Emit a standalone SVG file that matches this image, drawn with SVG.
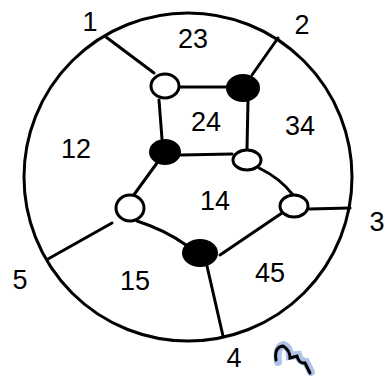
<svg xmlns="http://www.w3.org/2000/svg" width="389" height="376" viewBox="0 0 389 376">
<style>
.e{fill:none;stroke:#000;stroke-width:3;stroke-linecap:round;stroke-linejoin:round}
.w{fill:#fff;stroke:#000;stroke-width:3}
.b{fill:#000;stroke:#000;stroke-width:2}
.t{font-family:"Liberation Sans","DejaVu Sans",sans-serif;font-size:27px;fill:#000;text-anchor:middle}
</style>
<rect width="389" height="376" fill="#fff"/>
<circle class="e" cx="188" cy="177" r="164"/>
<g id="connectors">
<path class="e" d="M106,37 L154,73"/>
<path class="e" d="M180,87 L228,87"/>
<path class="e" d="M278,38 L252,75"/>
<path class="e" d="M159,100 L162,139"/>
<path class="e" d="M248,101 L247,149"/>
<path class="e" d="M181,155 L232,154"/>
<path class="e" d="M157,163 L133,196"/>
<path class="e" d="M259,168 Q280,178 293,195"/>
<path class="e" d="M309,209 L350,208"/>
<path class="e" d="M137,221 Q165,230 186,245"/>
<path class="e" d="M282,213 L220,255"/>
<path class="e" d="M48,259 L112,223"/>
<path class="e" d="M207,266 L223,336"/>
</g>
<g id="n_wTL"><ellipse class="w" cx="165" cy="86" rx="14" ry="12"/></g>
<g id="n_bTR"><ellipse class="b" cx="243" cy="88" rx="16" ry="13"/></g>
<g id="n_bML"><ellipse class="b" cx="165" cy="152" rx="15" ry="12"/></g>
<g id="n_wMR"><ellipse class="w" cx="247" cy="160" rx="14" ry="10"/></g>
<g id="n_wLL"><ellipse class="w" cx="130" cy="208" rx="14" ry="13"/></g>
<g id="n_wRL"><ellipse class="w" cx="294" cy="206" rx="14" ry="11"/></g>
<g id="n_bB"><ellipse class="b" cx="200" cy="253" rx="17" ry="13"/></g>
<g id="labels">
<text class="t" x="193" y="48">23</text>
<text class="t" x="206" y="131">24</text>
<text class="t" x="300" y="135">34</text>
<text class="t" x="76" y="158">12</text>
<text class="t" x="215" y="210">14</text>
<text class="t" x="135" y="290">15</text>
<text class="t" x="270" y="282">45</text>
<text class="t" x="90" y="31">1</text>
<text class="t" x="302" y="34">2</text>
<text class="t" x="377" y="231">3</text>
<text class="t" x="20" y="289">5</text>
<text class="t" x="234" y="367">4</text>
</g>
<g id="scribble">
<path d="M278,362 Q276,346 284,345 Q290,348 290,356 L298,355 Q300,362 306,362 L311,372" fill="none" stroke="#8fa8e0" stroke-width="8" stroke-linecap="round" opacity="0.7"/>
<path d="M276,360 Q274,347 283,346 Q290,350 290,358 L297,356 Q299,364 305,363 L310,373" fill="none" stroke="#000" stroke-width="3" stroke-linecap="round"/>
</g>
</svg>
